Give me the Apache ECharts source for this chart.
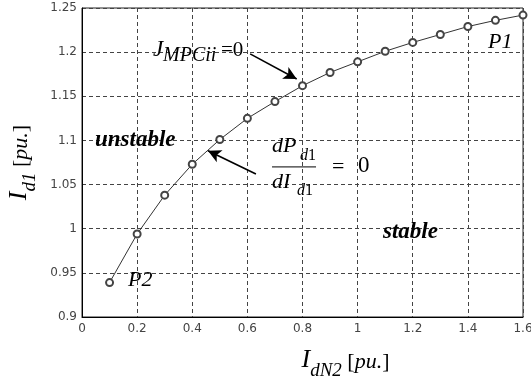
<!DOCTYPE html>
<html>
<head>
<meta charset="utf-8">
<script src="https://cdn.jsdelivr.net/npm/echarts@6/dist/echarts.min.js"></script>
<style>
  html, body { margin: 0; padding: 0; background: #fff; }
  #chart { width: 531px; height: 378px; }
</style>
</head>
<body>
<div id="chart"></div>
<script>
// Operating current I_d1 versus I_dN2 (per unit)
var iDN2 = [0.1, 0.2, 0.3, 0.4, 0.5, 0.6, 0.7, 0.8, 0.9, 1.0, 1.1, 1.2, 1.3, 1.4, 1.5, 1.6];
var iD1  = [0.939, 0.994, 1.038, 1.073, 1.101, 1.125, 1.144, 1.162, 1.177, 1.189, 1.201, 1.211, 1.220, 1.229, 1.236, 1.242];

var xTicks = [0, 0.2, 0.4, 0.6, 0.8, 1, 1.2, 1.4, 1.6];
var yTicks = [0.9, 0.95, 1, 1.05, 1.1, 1.15, 1.2, 1.25];

// arrow endpoints in data units: [tail, head]
var arrowJ  = [[0.61, 1.198], [0.779, 1.1696]];
var arrowDP = [[0.631, 1.062], [0.457, 1.0884]];

// text anchors in data units
var anchorJ = [0.2576, 1.1945];
var anchorFrac = [0.6894, 1.070];
var anchorUnstable = [0.047, 1.1005];
var anchorStable = [1.092, 0.9963];
var anchorP1 = [1.473, 1.2115];
var anchorP2 = [0.167, 0.942];

var serif = '"Liberation Serif", "Times New Roman", serif';
var sans = '"DejaVu Sans", Arial, sans-serif';

var chart = echarts.init(document.getElementById('chart'));

var gridLine = { show: true, lineStyle: { color: '#444', type: [4, 3], width: 1 } };

var titleRich = {
  i: { fontFamily: serif, fontStyle: 'italic', fontSize: 26, color: '#000', verticalAlign: 'bottom' },
  s: { fontFamily: serif, fontStyle: 'italic', fontSize: 19, color: '#000', padding: [0, 0, -7, 0], verticalAlign: 'bottom' },
  i2: { fontFamily: serif, fontStyle: 'italic', fontSize: 22, color: '#000', verticalAlign: 'bottom' },
  r: { fontFamily: serif, fontSize: 22, color: '#000', verticalAlign: 'bottom' }
};

chart.setOption({
  animation: false,
  backgroundColor: '#fff',
  grid: {
    left: 82, right: 8, top: 8, bottom: 61,
    outerBoundsMode: 'none', containLabel: false,
    show: true, borderColor: '#222', borderWidth: 1
  },
  xAxis: {
    type: 'value',
    min: xTicks[0], max: xTicks[xTicks.length - 1], interval: 0.2,
    axisLine: { show: true, onZero: false, lineStyle: { color: '#000', width: 1 } },
    axisTick: { show: false },
    splitLine: gridLine,
    axisLabel: { color: '#444', fontFamily: sans, fontSize: 12, margin: 6 },
    name: '{i|I}{s|dN2}{r| [}{i2|pu.}{r|]}',
    nameLocation: 'middle',
    nameGap: 30,
    nameTextStyle: { padding: [0, 0, 0, 86], rich: titleRich }
  },
  yAxis: {
    type: 'value',
    min: yTicks[0], max: yTicks[yTicks.length - 1], interval: 0.05,
    axisLine: { show: true, onZero: false, lineStyle: { color: '#000', width: 1 } },
    axisTick: { show: false },
    splitLine: gridLine,
    axisLabel: { color: '#444', fontFamily: sans, fontSize: 12, margin: 5 },
    name: '{i|I}{s|d1}{r| [}{i2|pu.}{r|]}',
    nameLocation: 'middle',
    nameRotate: 90,
    nameGap: 50,
    nameTextStyle: { rich: titleRich }
  },
  series: [{
    type: 'line',
    data: iDN2.map(function (x, k) { return [x, iD1[k]]; }),
    symbol: 'emptyCircle',
    symbolSize: 7,
    showAllSymbol: true,
    itemStyle: { color: '#444', borderWidth: 0.8 },
    lineStyle: { color: '#333', width: 1 },
    markLine: {
      silent: true,
      symbol: ['none', 'arrow'],
      symbolSize: [10, 13],
      label: { show: false },
      lineStyle: { color: '#000', width: 1.6, type: 'solid' },
      data: [
        [{ coord: arrowJ[0] }, { coord: arrowJ[1] }],
        [{ coord: arrowDP[0] }, { coord: arrowDP[1] }]
      ]
    }
  }]
});

function px(p) { return chart.convertToPixel({ gridIndex: 0 }, p); }

function txt(x, y, text, size, style, weight) {
  return {
    type: 'text', x: x, y: y,
    style: {
      text: text, fill: '#000',
      font: (style || 'normal') + ' ' + (weight || 'normal') + ' ' + size + 'px ' + serif,
      align: 'left', verticalAlign: 'middle'
    }
  };
}

function group(anchor, children) {
  var p = px(anchor);
  return { type: 'group', x: p[0], y: p[1], silent: true, children: children };
}

chart.setOption({
  graphic: [
    group(anchorJ, [
      txt(0, -7, 'J', 23, 'italic'),
      txt(10, -1, 'MPCii', 20, 'italic'),
      txt(68, -7, '=0', 21)
    ]),
    group(anchorFrac, [
      txt(0, -21, 'dP', 22, 'italic'),
      txt(28, -11, 'd', 16, 'italic'),
      txt(36, -11, '1', 16),
      { type: 'line', shape: { x1: 0, y1: 0, x2: 44, y2: 0 }, style: { stroke: '#000', lineWidth: 1 } },
      txt(0, 15, 'dI', 22, 'italic'),
      txt(25, 24, 'd', 16, 'italic'),
      txt(33, 24, '1', 16),
      txt(60, 0, '=', 22),
      txt(86, -1, '0', 23)
    ]),
    group(anchorUnstable, [txt(0, 0, 'unstable', 23, 'italic', 'bold')]),
    group(anchorStable, [txt(0, 0, 'stable', 23, 'italic', 'bold')]),
    group(anchorP1, [txt(0, 0, 'P1', 22, 'italic')]),
    group(anchorP2, [txt(0, 0, 'P2', 22, 'italic')])
  ]
});
</script>
</body>
</html>
